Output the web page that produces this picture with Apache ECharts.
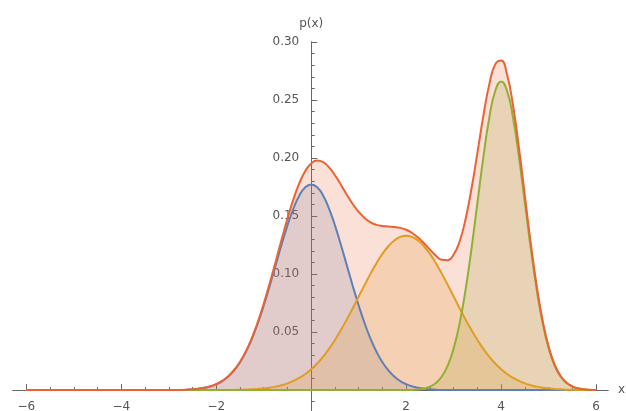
<!DOCTYPE html>
<html>
<head>
<meta charset="utf-8">
<script src="https://cdn.jsdelivr.net/npm/echarts@6/dist/echarts.min.js"></script>
<style>
html,body{margin:0;padding:0;background:#fff;}
#c{width:626px;height:411px;}
</style>
</head>
<body>
<div id="c"></div>
<script>
// x sample positions
var xs = [-6,-5.875,-5.75,-5.625,-5.5,-5.375,-5.25,-5.125,-5,-4.875,-4.75,-4.625,-4.5,-4.375,-4.25,-4.125,
  -4,-3.875,-3.75,-3.625,-3.5,-3.375,-3.25,-3.125,-3,-2.875,-2.75,-2.625,-2.5,-2.375,-2.25,-2.125,
  -2,-1.875,-1.75,-1.625,-1.5,-1.375,-1.25,-1.125,-1,-0.875,-0.75,-0.625,-0.5,-0.375,-0.25,-0.125,
  0,0.125,0.25,0.375,0.5,0.625,0.75,0.875,1,1.125,1.25,1.375,1.5,1.625,1.75,1.875,
  2,2.125,2.25,2.375,2.5,2.625,2.75,2.875,3,3.125,3.25,3.375,3.5,3.625,3.75,3.875,
  4,4.125,4.25,4.375,4.5,4.625,4.75,4.875,5,5.125,5.25,5.375,5.5,5.625,5.75,5.875,6];
// component densities
var blueVals = [0,0,0,0,0,0,0,0,0,0,0,0,0,0,0,0,
  0,0,0,0,0,0,0,0,0.0001,0.0001,0.0002,0.0004,0.0007,0.0012,0.0020,0.0032,
  0.0051,0.0078,0.0117,0.0170,0.0240,0.0330,0.0442,0.0576,0.0729,0.0898,0.1075,0.1253,0.1420,0.1565,0.1677,0.1749,
  0.1773,0.1749,0.1677,0.1565,0.1420,0.1253,0.1075,0.0898,0.0729,0.0576,0.0442,0.0330,0.0240,0.0170,0.0117,0.0078,
  0.0051,0.0032,0.0020,0.0012,0.0007,0.0004,0.0002,0.0001,0.0001,0,0,0,0,0,0,0,
  0,0,0,0,0,0,0,0,0,0,0,0,0,0,0,0,0];
var orangeVals = [0,0,0,0,0,0,0,0,0,0,0,0,0,0,0,0,
  0,0,0,0,0,0,0,0,0,0,0,0,0,0,0,0,
  0,0.0001,0.0001,0.0002,0.0003,0.0004,0.0007,0.0010,0.0015,0.0021,0.0030,0.0042,0.0058,0.0079,0.0106,0.0139,
  0.0180,0.0229,0.0288,0.0355,0.0432,0.0517,0.0609,0.0706,0.0807,0.0907,0.1004,0.1094,0.1174,0.1240,0.1289,0.1320,
  0.1330,0.1320,0.1289,0.1240,0.1174,0.1094,0.1004,0.0907,0.0807,0.0706,0.0609,0.0517,0.0432,0.0355,0.0288,0.0229,
  0.0180,0.0139,0.0106,0.0079,0.0058,0.0042,0.0030,0.0021,0.0015,0.0010,0.0007,0.0004,0.0003,0.0002,0.0001,0.0001,0];
var greenVals = [0,0,0,0,0,0,0,0,0,0,0,0,0,0,0,0,
  0,0,0,0,0,0,0,0,0,0,0,0,0,0,0,0,
  0,0,0,0,0,0,0,0,0,0,0,0,0,0,0,0,
  0,0,0,0,0,0,0,0,0,0,0,0,0,0,0,0,
  0.0001,0.0002,0.0006,0.0014,0.0030,0.0061,0.0117,0.0212,0.0360,0.0575,0.0864,0.1218,0.1613,0.2008,0.2347,0.2578,
  0.2660,0.2578,0.2347,0.2008,0.1613,0.1218,0.0864,0.0575,0.0360,0.0212,0.0117,0.0061,0.0030,0.0014,0.0006,0.0002,0.0001];
var mixVals = [0,0,0,0,0,0,0,0,0,0,0,0,0,0,0,0,
  0,0,0,0,0,0,0,0,0.0001,0.0001,0.0002,0.0004,0.0007,0.0012,0.0020,0.0032,
  0.0051,0.0079,0.0118,0.0172,0.0243,0.0334,0.0449,0.0586,0.0744,0.0919,0.1105,0.1295,0.1478,0.1644,0.1783,0.1888,
  0.1953,0.1978,0.1965,0.1920,0.1852,0.1770,0.1684,0.1604,0.1536,0.1483,0.1446,0.1424,0.1414,0.1410,0.1406,0.1398,
  0.1382,0.1354,0.1315,0.1266,0.1211,0.1159,0.1123,0.1120,0.1168,0.1281,0.1473,0.1735,0.2045,0.2363,0.2635,0.2807,
  0.2840,0.2717,0.2453,0.2087,0.1671,0.1260,0.0894,0.0596,0.0375,0.0222,0.0124,0.0065,0.0033,0.0016,0.0007,0.0003,0.0001];
// tick labels / tick values
var xTickLabels = [-6,-4,-2,2,4,6];
var xMinorTicks = [-6,-5.5,-5,-4.5,-4,-3.5,-3,-2.5,-2,-1.5,-1,-0.5,0.5,1,1.5,2,2.5,3,3.5,4,4.5,5,5.5,6];
var yTickLabels = [0.05,0.10,0.15,0.20,0.25,0.30];
var yMinorTicks = [-0.01,0.01,0.02,0.03,0.04,0.06,0.07,0.08,0.09,0.11,0.12,0.13,0.14,0.16,0.17,0.18,0.19,0.21,0.22,0.23,0.24,0.26,0.27,0.28,0.29];

var X_MIN = -6.28, X_MAX = 6.25, Y_MIN = -0.018, Y_MAX = 0.30;
var G_LEFT = 13, G_RIGHT = 18, G_TOP = 42;
var CW = 626, CH = 411;
// pixel of x = 0 and y = 0 derived from the scales
var plotW = CW - G_LEFT - G_RIGHT, plotH = CH - G_TOP;
var zeroX = G_LEFT + (0 - X_MIN) / (X_MAX - X_MIN) * plotW;
var zeroY = G_TOP + (Y_MAX - 0) / (Y_MAX - Y_MIN) * plotH;

function pairs(vals){ return xs.map(function(x,i){ return [x, vals[i]]; }); }

var axisColor = '#666';
var txt = {color:'#555', fontSize:12, fontFamily:'DejaVu Sans'};

function mkSeries(name, vals, color){
  return {
    name:name, type:'line', data:pairs(vals), smooth:true, symbol:'none',
    xAxisIndex:0, yAxisIndex:0,
    lineStyle:{color:color, width:2},
    itemStyle:{color:color},
    areaStyle:{color:color, opacity:0.2, origin:0}
  };
}

var chart = echarts.init(document.getElementById('c'), null, {renderer:'canvas'});
chart.setOption({
  animation:false,
  backgroundColor:'#fff',
  grid:[
    {left:G_LEFT, right:G_RIGHT, top:G_TOP, bottom:0, containLabel:false, outerBoundsMode:'none'},
    {left:G_LEFT, right:G_RIGHT, top:G_TOP, bottom:CH - zeroY, containLabel:false, outerBoundsMode:'none'},
    {left:zeroX, right:0, top:G_TOP, bottom:0, containLabel:false, outerBoundsMode:'none'}
  ],
  xAxis:[
    {gridIndex:0, type:'value', min:X_MIN, max:X_MAX, show:false},
    {gridIndex:1, type:'value', min:X_MIN, max:X_MAX, position:'bottom',
      name:'x', nameLocation:'end', nameGap:10, nameTextStyle:txt,
      axisLine:{show:true, onZero:false, lineStyle:{color:axisColor, width:1}},
      axisTick:{show:true, inside:true, length:6, customValues:xTickLabels, lineStyle:{color:axisColor}},
      axisLabel:Object.assign({show:true, customValues:xTickLabels, margin:11,
        formatter:function(v){ return String(Math.round(v)).replace('-', '\u2212'); }}, txt),
      splitLine:{show:false}},
    {gridIndex:1, type:'value', min:X_MIN, max:X_MAX, position:'bottom',
      axisLine:{show:true, onZero:false, lineStyle:{color:axisColor, width:1}},
      axisTick:{show:true, inside:true, length:3, customValues:xMinorTicks, lineStyle:{color:axisColor}},
      axisLabel:{show:false}, splitLine:{show:false}},
    {gridIndex:2, type:'value', min:0, max:1, show:false}
  ],
  yAxis:[
    {gridIndex:0, type:'value', min:Y_MIN, max:Y_MAX, show:false},
    {gridIndex:1, type:'value', min:0, max:1, show:false},
    {gridIndex:2, type:'value', min:Y_MIN, max:Y_MAX, position:'left',
      name:'p(x)', nameLocation:'end', nameGap:12, nameTextStyle:txt,
      axisLine:{show:true, onZero:false, lineStyle:{color:axisColor, width:1}},
      axisTick:{show:true, inside:true, length:6, customValues:yTickLabels, lineStyle:{color:axisColor}},
      axisLabel:Object.assign({show:true, customValues:yTickLabels, margin:12,
        formatter:function(v){ return v.toFixed(2); }}, txt),
      splitLine:{show:false}},
    {gridIndex:2, type:'value', min:Y_MIN, max:Y_MAX, position:'left',
      axisLine:{show:true, onZero:false, lineStyle:{color:axisColor, width:1}},
      axisTick:{show:true, inside:true, length:3.5, customValues:yMinorTicks, lineStyle:{color:axisColor}},
      axisLabel:{show:false}, splitLine:{show:false}}
  ],
  series:[
    mkSeries('p1', blueVals, '#5E81B5'),
    mkSeries('p2', orangeVals, '#E19C24'),
    mkSeries('p3', greenVals, '#8FB032'),
    mkSeries('p', mixVals, '#EB6235')
  ]
});
</script>
</body>
</html>
